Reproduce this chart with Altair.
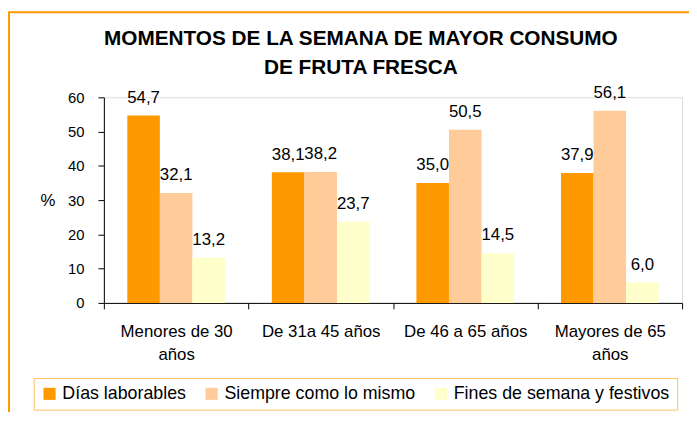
import altair as alt
import pandas as pd

categorias = ["Menores de 30 años", "De 31a 45 años", "De 46 a 65 años", "Mayores de 65 años"]
series = ["Días laborables", "Siempre como lo mismo", "Fines de semana y festivos"]
dias_laborables = [54.7, 38.1, 35.0, 37.9]
siempre_igual = [32.1, 38.2, 50.5, 56.1]
fines_semana = [13.2, 23.7, 14.5, 6.0]
colores = ["#FF9900", "#FFCC99", "#FFFFCC"]
ticks_y = [0, 10, 20, 30, 40, 50, 60]
titulo = ["MOMENTOS DE LA SEMANA DE MAYOR CONSUMO", "DE FRUTA FRESCA"]

rows = []
for serie, valores in zip(series, [dias_laborables, siempre_igual, fines_semana]):
    for cat, v in zip(categorias, valores):
        rows.append({"categoria": cat, "serie": serie, "valor": v,
                     "etiqueta": f"{v:.1f}".replace(".", ",")})
df = pd.DataFrame(rows)

FONT = "Liberation Sans"

label_expr = ("datum.value == 'Menores de 30 años' ? ['Menores de 30', 'años'] : "
              "datum.value == 'Mayores de 65 años' ? ['Mayores de 65', 'años'] : datum.label")

x = alt.X("categoria:N", sort=categorias,
          scale=alt.Scale(paddingInner=0, paddingOuter=0),
          axis=alt.Axis(title=None, labelAngle=0, tickBand="extent", tickSize=6,
                        labelPadding=15, labelFontSize=17, labelLineHeight=23,
                        labelFont=FONT, labelColor="black", domainColor="black",
                        tickColor="black", labelLimit=300, labelExpr=label_expr))
xo = alt.XOffset("serie:N", sort=series, scale=alt.Scale(paddingOuter=0.72, paddingInner=0))
y = alt.Y("valor:Q", scale=alt.Scale(domain=[0, 60], nice=False),
          axis=alt.Axis(values=ticks_y, title="%", titleAngle=0, titleX=-57, titleY=104,
                        titleAlign="center", titleBaseline="middle", titleFontSize=17,
                        titleFontWeight="normal", titleFont=FONT, titleColor="black",
                        labelFontSize=15, labelFont=FONT, labelColor="black",
                        labelPadding=14, tickSize=6, grid=False,
                        domainColor="black", tickColor="black"))
color = alt.Color("serie:N", sort=series,
                  scale=alt.Scale(domain=series, range=colores),
                  legend=alt.Legend(title=None, orient="none", legendX=-71, legendY=284,
                                    direction="horizontal", symbolType="square",
                                    symbolSize=150, symbolStrokeWidth=0,
                                    labelFontSize=18, labelFont=FONT, labelColor="black",
                                    labelLimit=400, labelOffset=4, columnPadding=16,
                                    padding=7, strokeColor="#FFC060", fillColor="white"))

base = alt.Chart(df)
bars = base.mark_bar().encode(x=x, xOffset=xo, y=y, color=color)
labels = base.mark_text(baseline="alphabetic", dy=-13, fontSize=17, font=FONT,
                        color="black").encode(x=x, xOffset=xo, y=y, text="etiqueta:N")

deco = pd.DataFrame({"k": [0]})
rule_top = alt.Chart(deco).mark_rule(color="#FF9900", strokeWidth=2).encode(
    x=alt.value(-97), x2=alt.value(592), y=alt.value(-86))
rule_left = alt.Chart(deco).mark_rule(color="#FF9900", strokeWidth=2).encode(
    x=alt.value(-96), y=alt.value(-86), y2=alt.value(330))
title_mark = alt.Chart(deco).mark_text(
    fontSize=21, fontWeight="bold", font=FONT, color="black", align="center",
    baseline="alphabetic", lineHeight=29).encode(
    x=alt.value(260), y=alt.value(-53), text=alt.value(titulo))

chart = alt.layer(bars, labels, rule_top, rule_left, title_mark).properties(
    width=585, height=208,
    autosize=alt.AutoSizeParams(type="none"),
    padding={"left": 97, "top": 88, "right": 7, "bottom": 108},
).configure_view(stroke=None).configure(background="white")

chart.save("out.html", embed_options={"renderer": "svg", "actions": False})
